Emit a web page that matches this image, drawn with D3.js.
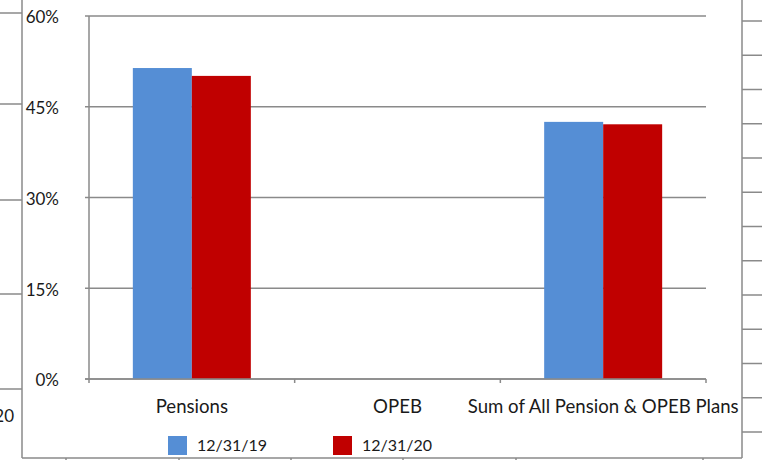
<!DOCTYPE html>
<html>
<head>
<meta charset="utf-8">
<script src="https://cdn.jsdelivr.net/npm/d3@7"></script>
<style>
  body { margin: 0; background: #fff; }
  svg { display: block; }
  text { font-family: Lato, "Open Sans", sans-serif; fill: #1a1a1a; }
</style>
</head>
<body>
<div class="chart"></div>
<script>
var categories = ['Pensions', 'OPEB', 'Sum of All Pension & OPEB Plans'];
var seriesNames = ['12/31/19', '12/31/20'];
var values19 = [51.4, null, 42.5];
var values20 = [50.1, null, 42.1];
var yTicks = [0, 15, 30, 45, 60];
var colors = ['#558ed5', '#c00000'];

var width = 762, height = 460;
var plotLeft = 89, plotRight = 706, plotTop = 16, plotBottom = 379;
var grey = '#8a8a8a';

var svg = d3.select('.chart').append('svg')
  .attr('width', width)
  .attr('height', height);

// neighbouring chart edges that were cut into the picture
var frame = svg.append('g').attr('stroke', grey).attr('stroke-width', 1.5).attr('fill', 'none');
frame.append('line').attr('x1', 22).attr('x2', 22).attr('y1', 0).attr('y2', 458);
frame.append('line').attr('x1', 742).attr('x2', 742).attr('y1', 0).attr('y2', 458);
frame.append('line').attr('x1', 22).attr('x2', 742).attr('y1', 458).attr('y2', 458);
frame.selectAll('.lt').data([13, 104, 200, 294, 389]).enter().append('line')
  .attr('x1', 0).attr('x2', 22).attr('y1', function(d){ return d }).attr('y2', function(d){ return d });
frame.selectAll('.rt').data(d3.range(13)).enter().append('line')
  .attr('x1', 742).attr('x2', 762)
  .attr('y1', function(d){ return 21 + d * 34.25 }).attr('y2', function(d){ return 21 + d * 34.25 });
frame.selectAll('.bt').data([66, 179, 291, 403, 516, 703]).enter().append('line')
  .attr('x1', function(d){ return d }).attr('x2', function(d){ return d })
  .attr('y1', 458).attr('y2', 462);
svg.append('text').attr('x', 14).attr('y', 418).attr('text-anchor', 'end')
  .attr('dominant-baseline', 'middle').style('font-size', '17px').text('20');

var x = d3.scaleBand().domain(categories).range([plotLeft, plotRight]);
var x1 = d3.scaleBand().domain(seriesNames).range([0, x.bandwidth()]).paddingInner(0).paddingOuter(0.743);
var y = d3.scaleLinear().domain([0, 60]).range([plotBottom, plotTop]);

// gridlines
svg.append('g').selectAll('line').data(yTicks).enter().append('line')
  .attr('x1', plotLeft - 4).attr('x2', plotRight)
  .attr('y1', function(d){ return y(d) }).attr('y2', function(d){ return y(d) })
  .attr('stroke', grey).attr('stroke-width', 1.5);

// y axis
svg.append('line').attr('x1', plotLeft).attr('x2', plotLeft).attr('y1', plotTop).attr('y2', plotBottom)
  .attr('stroke', grey).attr('stroke-width', 1.5);
svg.append('g').selectAll('text').data(yTicks).enter().append('text')
  .attr('x', 59).attr('y', function(d){ return y(d) + 3 })
  .attr('text-anchor', 'end').attr('dominant-baseline', 'middle')
  .style('font-size', '17px')
  .text(function(d){ return d + '%' });

// bars
var series = [values19, values20];
series.forEach(function(vals, s){
  svg.append('g').selectAll('rect')
    .data(vals.map(function(v, i){ return { cat: categories[i], v: v } }).filter(function(d){ return d.v != null }))
    .enter().append('rect')
    .attr('x', function(d){ return x(d.cat) + x1(seriesNames[s]) })
    .attr('width', x1.bandwidth())
    .attr('y', function(d){ return y(d.v) })
    .attr('height', function(d){ return y(0) - y(d.v) })
    .attr('fill', colors[s]);
});

// x axis baseline & ticks
svg.append('line').attr('x1', plotLeft - 4).attr('x2', plotRight).attr('y1', plotBottom).attr('y2', plotBottom)
  .attr('stroke', grey).attr('stroke-width', 1.5);
var bounds = categories.map(function(c){ return x(c) }).concat([plotRight]);
svg.append('g').selectAll('line').data(bounds).enter().append('line')
  .attr('x1', function(d){ return d }).attr('x2', function(d){ return d })
  .attr('y1', plotBottom).attr('y2', plotBottom + 4)
  .attr('stroke', grey).attr('stroke-width', 1.5);
svg.append('g').selectAll('text').data(categories).enter().append('text')
  .attr('x', function(d){ return x(d) + x.bandwidth() / 2 })
  .attr('y', 408)
  .attr('text-anchor', 'middle').attr('dominant-baseline', 'middle')
  .style('font-size', '18.6px')
  .text(function(d){ return d });

// legend
var legendX = [168, 333];
var legend = svg.append('g').selectAll('g').data(seriesNames).enter().append('g')
  .attr('transform', function(d, i){ return 'translate(' + legendX[i] + ',436)' });
legend.append('rect').attr('width', 19).attr('height', 19)
  .attr('fill', function(d, i){ return colors[i] });
legend.append('text').attr('x', 29).attr('y', 11)
  .attr('dominant-baseline', 'middle').style('font-size', '16px')
  .text(function(d){ return d });
</script>
</body>
</html>
